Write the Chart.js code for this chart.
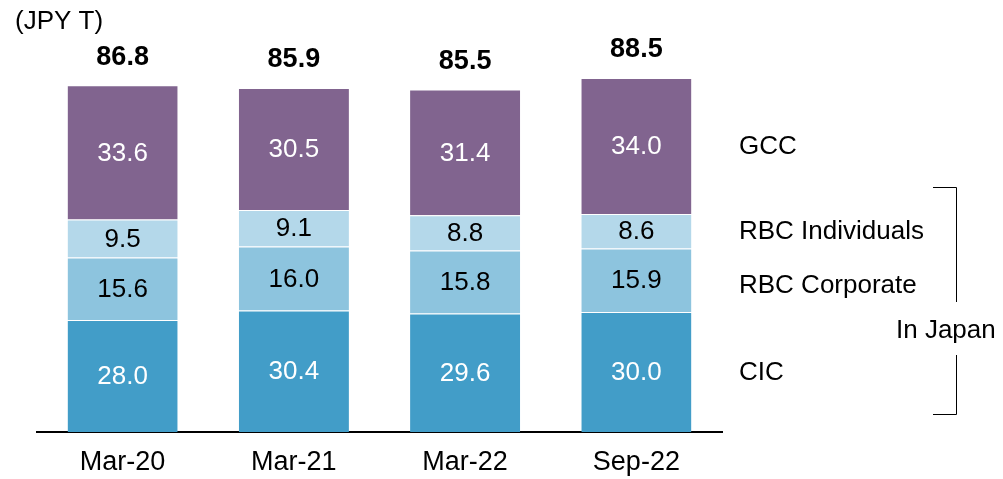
<!DOCTYPE html>
<html>
<head>
<meta charset="utf-8">
<script src="https://cdn.jsdelivr.net/npm/chart.js@4"></script>
<style>
  html, body { margin: 0; padding: 0; background: #fff; }
  #wrap { width: 1003px; height: 479px; }
</style>
</head>
<body>
<div id="wrap"><canvas id="chart"></canvas></div>
<script>
const periods = ["Mar-20", "Mar-21", "Mar-22", "Sep-22"];
const cic = [28.0, 30.4, 29.6, 30.0];
const rbcCorporate = [15.6, 16.0, 15.8, 15.9];
const rbcIndividuals = [9.5, 9.1, 8.8, 8.6];
const gcc = [33.6, 30.5, 31.4, 34.0];
const totals = [86.8, 85.9, 85.5, 88.5];

const FONT = "'Liberation Sans', Arial, sans-serif";

// labels inside segments, totals on top, names on the right + bracket
const labelsPlugin = {
  id: "labels",
  afterDatasetsDraw(chart) {
    const ctx = chart.ctx;
    ctx.save();
    ctx.textAlign = "center";
    ctx.textBaseline = "middle";
    chart.data.datasets.forEach((ds, di) => {
      const meta = chart.getDatasetMeta(di);
      meta.data.forEach((bar, i) => {
        const p = bar.getProps(["x", "y", "base"], true);
        ctx.fillStyle = ds.textColor;
        ctx.font = "26px " + FONT;
        ctx.fillText(ds.data[i].toFixed(1), p.x, (p.y + p.base) / 2 + 1);
      });
    });

    // totals
    const top = chart.getDatasetMeta(chart.data.datasets.length - 1);
    top.data.forEach((bar, i) => {
      ctx.fillStyle = "#000";
      ctx.font = "bold 27px " + FONT;
      ctx.fillText(totals[i].toFixed(1), bar.x, bar.y - 28);
    });

    // series names next to last bar
    ctx.textAlign = "left";
    ctx.font = "26px " + FONT;
    ctx.fillStyle = "#000";
    chart.data.datasets.forEach((ds, di) => {
      const bar = chart.getDatasetMeta(di).data[periods.length - 1];
      ctx.fillText(ds.label, 739, (bar.y + bar.base) / 2 + 1 + (ds.nudge || 0));
    });

    // bracket "In Japan"
    ctx.strokeStyle = "#000";
    ctx.lineWidth = 1;
    ctx.beginPath();
    ctx.moveTo(933, 187.5); ctx.lineTo(956.5, 187.5); ctx.lineTo(956.5, 302);
    ctx.moveTo(956.5, 355); ctx.lineTo(956.5, 414.5); ctx.lineTo(933, 414.5);
    ctx.stroke();
    ctx.fillText("In Japan", 896, 331);

    // unit
    ctx.fillText("(JPY T)", 15, 22);
    ctx.restore();
  }
};

const segBorder = { top: 1, bottom: 0, left: 0, right: 0 };

new Chart(document.getElementById("chart"), {
  type: "bar",
  plugins: [labelsPlugin],
  data: {
    labels: periods,
    datasets: [
      { label: "CIC", data: cic, backgroundColor: "#429dc8", textColor: "#fff", nudge: 0 },
      { label: "RBC Corporate", data: rbcCorporate, backgroundColor: "#8dc4de", textColor: "#000", nudge: 5 },
      { label: "RBC Individuals", data: rbcIndividuals, backgroundColor: "#b4d8ea", textColor: "#000", nudge: 0 },
      { label: "GCC", data: gcc, backgroundColor: "#81648f", textColor: "#fff", nudge: 0 }
    ].map(d => Object.assign(d, {
      borderColor: "rgba(255,255,255,0.6)",
      borderWidth: segBorder,
      borderSkipped: false,
      barPercentage: 0.643,
      categoryPercentage: 1
    }))
  },
  options: {
    responsive: true,
    maintainAspectRatio: false,
    animation: false,
    layout: { padding: { left: 37, right: 281, top: 32, bottom: 0 } },
    plugins: { legend: { display: false }, tooltip: { enabled: false } },
    scales: {
      x: {
        stacked: true,
        grid: { display: false },
        border: { display: true, color: "#000", width: 2 },
        ticks: { color: "#000", font: { family: FONT, size: 27 }, padding: 6 },
        afterFit(scale) { scale.height = 47; }
      },
      y: {
        stacked: true,
        display: false,
        min: 0,
        max: 100
      }
    }
  }
});
</script>
</body>
</html>
